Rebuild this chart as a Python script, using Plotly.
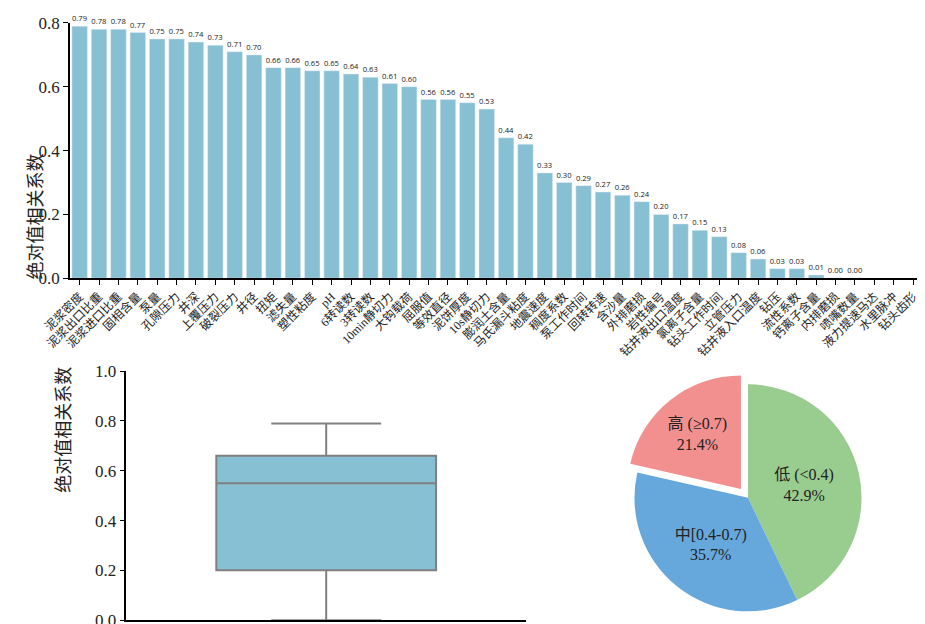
import plotly.graph_objects as go

features = ["泥浆密度", "泥浆出口比重", "泥浆进口比重", "固相含量", "泵量", "孔隙压力", "井深", "上覆压力",
            "破裂压力", "井径", "扭矩", "滤失量", "塑性粘度", "pH", "6转读数", "3转读数", "10min静切力",
            "大钩载荷", "屈服值", "等效直径", "泥饼厚度", "10s静切力", "膨润土含量", "马氏漏斗粘度",
            "地震速度", "稠度系数", "泵工作时间", "回转转速", "含沙量", "外排磨损", "岩性编号",
            "钻井液出口温度", "氯离子含量", "钻头工作时间", "立管压力", "钻井液入口温度", "钻压",
            "流性系数", "钙离子含量", "内排磨损", "喷嘴数量", "液力提速马达", "水里脉冲", "钻头齿形"]
corr = [0.79, 0.78, 0.78, 0.77, 0.75, 0.75, 0.74, 0.73, 0.71, 0.70, 0.66, 0.66, 0.65, 0.65, 0.64,
        0.63, 0.61, 0.60, 0.56, 0.56, 0.55, 0.53, 0.44, 0.42, 0.33, 0.30, 0.29, 0.27, 0.26, 0.24,
        0.20, 0.17, 0.15, 0.13, 0.08, 0.06, 0.03, 0.03, 0.01, 0.001, 0.001, None, None, None]

box_q1, box_median, box_q3 = [0.20], [0.55], [0.66]
box_low, box_high = [0.0], [0.79]

pie_labels = ["低 (<0.4)", "中[0.4-0.7)", "高 (≥0.7)"]
pie_counts = [18, 15, 9]
pie_colors = ["#99cc8f", "#66a8dc", "#f29090"]

serif = "Liberation Serif, Noto Sans CJK SC"
bar_text = [f"{v:.2f}" if v is not None else "" for v in corr]

fig = go.Figure()
fig.add_trace(go.Bar(x=features, y=corr, marker_color="#87bfd3", text=bar_text,
                     textposition="outside", textfont=dict(size=8, family="Open Sans", color="#222"),
                     cliponaxis=False, width=0.8, xaxis="x", yaxis="y"))
fig.add_trace(go.Box(x=[0], q1=box_q1, median=box_median, q3=box_q3, lowerfence=box_low,
                     upperfence=box_high, fillcolor="#87bfd3", line=dict(color="#808080", width=2),
                     width=0.55, xaxis="x2", yaxis="y2"))
fig.add_trace(go.Pie(labels=pie_labels, values=pie_counts, marker=dict(colors=pie_colors),
                     sort=False, direction="clockwise", rotation=0, pull=[0, 0, 0.1],
                     texttemplate="%{label}<br>%{percent:.1%}",
                     textposition="inside", insidetextorientation="horizontal",
                     textfont=dict(size=16, family=serif, color="#222"),
                     domain=dict(x=[0.665, 0.935], y=[0.01, 0.42])))

axis_common = dict(showline=True, linecolor="black", linewidth=1.5, ticks="outside",
                   tickcolor="black", showgrid=False, zeroline=False, automargin=False)
fig.update_layout(
    width=925, height=624, showlegend=False, plot_bgcolor="white", paper_bgcolor="white",
    margin=dict(l=0, r=0, t=0, b=0), font=dict(family=serif, color="#222"),
    xaxis=dict(domain=[0.067, 0.989], anchor="y", tickangle=-45, tickfont=dict(size=12),
               **axis_common),
    yaxis=dict(domain=[0.567, 0.976], anchor="x", range=[0, 0.8], dtick=0.2, tickformat=".1f",
               tickfont=dict(size=17), **axis_common),
    xaxis2=dict(domain=[0.128, 0.56], anchor="y2", showticklabels=False, ticks="",
                showline=True, linecolor="black", linewidth=1.5, showgrid=False, zeroline=False,
                automargin=False, range=[-0.5, 0.5]),
    yaxis2=dict(domain=[0.019, 0.418], anchor="x2", range=[0, 1.0], dtick=0.2, tickformat=".1f",
                tickfont=dict(size=17), **axis_common),
    annotations=[
        dict(text="绝对值相关系数", textangle=-90, x=16 / 925, y=0.77, xref="paper", yref="paper",
             showarrow=False, font=dict(size=18)),
        dict(text="绝对值相关系数", textangle=-90, x=44 / 925, y=0.22, xref="paper", yref="paper",
             showarrow=False, font=dict(size=18)),
    ],
)
fig.write_html("out.html")
